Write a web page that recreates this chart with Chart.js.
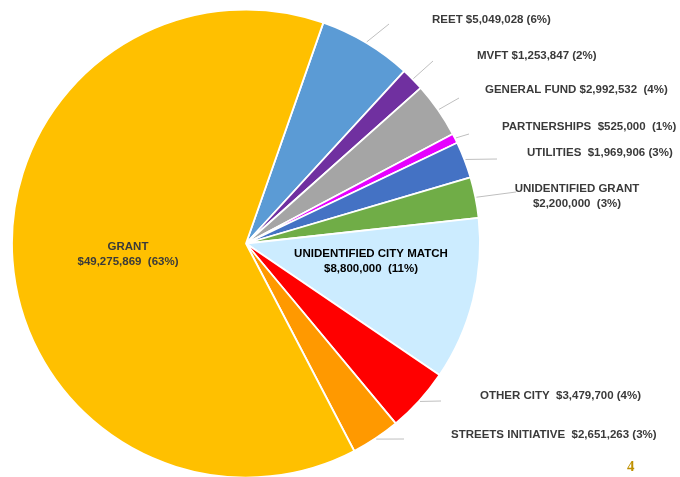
<!DOCTYPE html>
<html>
<head>
<meta charset="utf-8">
<script src="https://cdn.jsdelivr.net/npm/chart.js@4.4.0/dist/chart.umd.min.js"></script>
<style>
  html, body { margin:0; padding:0; background:#fff; }
  #wrap { position:relative; width:680px; height:477px; overflow:hidden; }
  #pg { position:absolute; left:627px; top:458px; font-family:"Liberation Serif","DejaVu Serif",serif; font-weight:bold; font-size:15px; color:#BF9000; }
</style>
</head>
<body>
<div id="wrap">
  <canvas id="c" width="680" height="477"></canvas>
  <div id="pg">4</div>
</div>
<script>
// ---- data ----
const categories = ["REET", "MVFT", "GENERAL FUND", "PARTNERSHIPS", "UTILITIES",
  "UNIDENTIFIED GRANT", "UNIDENTIFIED CITY MATCH", "OTHER CITY", "STREETS INITIATIVE", "GRANT"];
const values = [5049028, 1253847, 2992532, 525000, 1969906, 2200000, 8800000, 3479700, 2651263, 49275869];
const colors = ["#5B9BD5", "#7030A0", "#A5A5A5", "#E600FF", "#4472C4",
  "#70AD47", "#CCECFF", "#FF0000", "#FF9900", "#FFC000"];
// separators between name / amount / percent ("\n" = new line)
const sepAmount = [" ", " ", " ", "  ", "  ", "\n", "\n", "  ", "  ", "\n"];
const sepPct    = [" ", " ", "  ", "  ", " ", "  ", "  ", " ", " ", "  "];

// label placement (outside labels with leader line end points, inside labels at fixed spots)
const labelLayout = [
  {x:432, y:20, align:"left", lx:389, ly:24},
  {x:477, y:56, align:"left", lx:433, ly:61},
  {x:485, y:90, align:"left", lx:459, ly:98},
  {x:502, y:127, align:"left", lx:469, ly:134},
  {x:527, y:153, align:"left", lx:497, ly:159},
  {x:577, y:189, align:"center", lx:516, ly:192},
  {x:371, y:254, align:"center", inside:true, color:"#000000"},
  {x:480, y:396, align:"left", lx:441, ly:401},
  {x:451, y:435, align:"left", lx:404, ly:439},
  {x:128, y:247, align:"center", inside:true},
];

const total = values.reduce((a,b)=>a+b,0);
function money(v){ return "$" + v.toLocaleString("en-US"); }
function labelText(i){
  const pct = Math.round(values[i]/total*100);
  return categories[i] + sepAmount[i] + money(values[i]) + sepPct[i] + "(" + pct + "%)";
}

const labelPlugin = {
  id: "pieLabels",
  afterDatasetsDraw(chart){
    const ctx = chart.ctx;
    const meta = chart.getDatasetMeta(0);
    ctx.save();
    ctx.font = "bold 11.5px 'Liberation Sans', Arial, sans-serif";
    ctx.textBaseline = "middle";
    meta.data.forEach((arc, i) => {
      const L = labelLayout[i];
      const p = arc.getProps(["x","y","startAngle","endAngle","outerRadius"], true);
      if (!L.inside) {
        const mid = (p.startAngle + p.endAngle)/2;
        const sx = p.x + Math.cos(mid) * (p.outerRadius + 1);
        const sy = p.y + Math.sin(mid) * (p.outerRadius + 1);
        ctx.strokeStyle = "#BFBFBF";
        ctx.lineWidth = 1;
        ctx.beginPath();
        ctx.moveTo(sx, sy);
        ctx.lineTo(L.lx, L.ly);
        ctx.stroke();
      }
      ctx.fillStyle = L.color || "#3A3A3A";
      ctx.textAlign = L.align;
      const lines = labelText(i).split("\n");
      lines.forEach((t, k) => ctx.fillText(t, L.x, L.y + k*14.5));
    });
    ctx.restore();
  }
};

new Chart(document.getElementById("c"), {
  type: "pie",
  data: {
    labels: categories,
    datasets: [{
      data: values,
      backgroundColor: colors,
      borderColor: "#FFFFFF",
      borderWidth: 1.8,
      radius: 234
    }]
  },
  options: {
    responsive: false,
    animation: false,
    rotation: 19.3,
    layout: { padding: { left: 11, right: 199, top: 10, bottom: 0 } },
    plugins: { legend: { display:false }, tooltip: { enabled:false } }
  },
  plugins: [labelPlugin]
});
</script>
</body>
</html>
